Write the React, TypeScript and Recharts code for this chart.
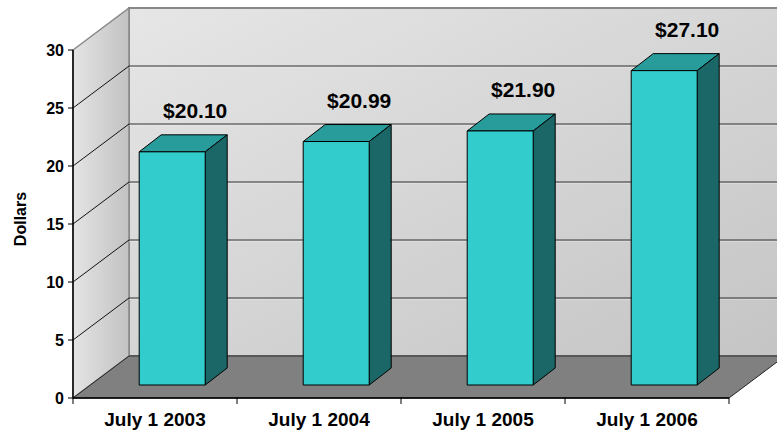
import React from "react";
import { BarChart, Bar, XAxis, YAxis, ReferenceArea, LabelList } from "recharts";

const categories = ["July 1 2003", "July 1 2004", "July 1 2005", "July 1 2006"];
const prices = [20.1, 20.99, 21.9, 27.1];
const yTicks = [0, 5, 10, 15, 20, 25, 30];

const data = categories.map((year, i) => ({ year, price: prices[i] }));

// 3D offsets (px)
const WALL_DX = 56;
const WALL_DY = -42;
const BAR_DX = 17; // bars sit a bit behind the front plane
const BAR_DY = -13;
const BOX_DX = 22; // bar depth
const BOX_DY = -17;

const FONT = "'Liberation Sans', Arial, sans-serif";

const Walls = (props: any) => {
  const { x, y, width, height } = props;
  const bottom = y + height;
  const right = x + width;
  const yOf = (v: number) => bottom - (height * v) / 30;
  const bx = x + WALL_DX;
  return (
    <g>
      <defs>
        <linearGradient id="backWall" x1="0" y1="0" x2="1" y2="1">
          <stop offset="0%" stopColor="#e6e6e6" />
          <stop offset="100%" stopColor="#c4c4c4" />
        </linearGradient>
        <linearGradient id="leftWall" x1="0" y1="0" x2="1" y2="0">
          <stop offset="0%" stopColor="#e4e4e4" />
          <stop offset="100%" stopColor="#c2c2c2" />
        </linearGradient>
      </defs>
      {/* back wall */}
      <rect
        x={bx}
        y={y + WALL_DY}
        width={width + 20}
        height={height}
        fill="url(#backWall)"
        stroke="#888"
        strokeWidth={2}
      />
      {/* left wall */}
      <polygon
        points={`${x},${y} ${bx},${y + WALL_DY} ${bx},${bottom + WALL_DY} ${x},${bottom}`}
        fill="url(#leftWall)"
        stroke="#888"
        strokeWidth={1.5}
      />
      {/* floor */}
      <polygon
        points={`${x},${bottom} ${bx},${bottom + WALL_DY} ${right + WALL_DX},${bottom + WALL_DY} ${right},${bottom}`}
        fill="#808080"
        stroke="#222"
        strokeWidth={1}
      />
      <line x1={bx} y1={bottom + WALL_DY} x2={right + WALL_DX} y2={bottom + WALL_DY} stroke="#5a5a5a" strokeWidth={1.5} />
      {yTicks
        .filter((t) => t > 0 && t < 30)
        .map((t) => {
          const yy = yOf(t);
          return (
            <g key={t}>
              <line x1={x} y1={yy} x2={bx} y2={yy + WALL_DY} stroke="#111" strokeWidth={1} />
              <line x1={bx} y1={yy + WALL_DY} x2={right + WALL_DX} y2={yy + WALL_DY} stroke="#333" strokeWidth={1.2} />
              <line x1={bx} y1={yy + WALL_DY + 1.5} x2={right + WALL_DX} y2={yy + WALL_DY + 1.5} stroke="#eee" strokeWidth={0.8} opacity={0.5} />
            </g>
          );
        })}
      {/* category boundary ticks */}
      {categories.concat([""]).map((_, i) => {
        const tx = x + (width * i) / categories.length;
        return <line key={i} x1={tx} y1={bottom} x2={tx} y2={bottom + 6} stroke="#000" strokeWidth={1} />;
      })}
    </g>
  );
};

const Box = (props: any) => {
  const { x, y, width, height } = props;
  const fx = x + BAR_DX;
  const fy = y + BAR_DY;
  const fr = fx + width;
  const fb = fy + height;
  return (
    <g stroke="#000" strokeWidth={1} strokeLinejoin="round">
      <polygon
        points={`${fx},${fy} ${fx + BOX_DX},${fy + BOX_DY} ${fr + BOX_DX},${fy + BOX_DY} ${fr},${fy}`}
        fill="#289b9b"
      />
      <polygon
        points={`${fr},${fy} ${fr + BOX_DX},${fy + BOX_DY} ${fr + BOX_DX},${fb + BOX_DY} ${fr},${fb}`}
        fill="#1b6767"
      />
      <rect x={fx} y={fy} width={width} height={height} fill="#33cccc" />
    </g>
  );
};

const PriceLabel = (props: any) => {
  const { x, y, width, value } = props;
  return (
    <text
      x={x + width / 2 + 40}
      y={y - 54}
      textAnchor="middle"
      dominantBaseline="central"
      fontFamily={FONT}
      fontWeight="bold"
      fontSize={21}
      fill="#000"
    >
      ${Number(value).toFixed(2)}
    </text>
  );
};

const AxisTitle = (props: any) => {
  const { viewBox } = props;
  const cx = (viewBox?.x ?? 0) + 20;
  const cy = (viewBox?.y ?? 50) + (viewBox?.height ?? 348) / 2 - 5;
  return (
    <text
      x={cx}
      y={cy}
      transform={`rotate(-90 ${cx} ${cy})`}
      textAnchor="middle"
      dominantBaseline="central"
      fontFamily={FONT}
      fontWeight="bold"
      fontSize={16}
      fill="#000"
    >
      Dollars
    </text>
  );
};

export default function App() {
  return (
    <div style={{ position: "absolute", left: 0, top: 0, background: "#fff" }}>
      <BarChart
        width={777}
        height={432}
        data={data}
        margin={{ top: 50, right: 48, bottom: 4, left: 0 }}
        barCategoryGap="30%"
      >
        <ReferenceArea y1={0} y2={30} shape={<Walls />} ifOverflow="visible" />
        <XAxis
          dataKey="year"
          height={30}
          tickLine={false}
          axisLine={{ stroke: "#000", strokeWidth: 1.5 }}
          tickSize={6}
          tickMargin={9}
          tick={{ fill: "#000", fontSize: 19, fontWeight: "bold", fontFamily: FONT }}
          interval={0}
        />
        <YAxis
          type="number"
          domain={[0, 30]}
          ticks={yTicks}
          interval={0}
          width={73}
          tickSize={5}
          tickMargin={4}
          axisLine={{ stroke: "#000", strokeWidth: 1.5 }}
          tickLine={{ stroke: "#000" }}
          tick={{ fill: "#000", fontSize: 16, fontWeight: "bold", fontFamily: FONT }}
          label={<AxisTitle />}
        />
        <Bar dataKey="price" shape={<Box />} isAnimationActive={false}>
          <LabelList dataKey="price" content={<PriceLabel />} />
        </Bar>
      </BarChart>
    </div>
  );
}
